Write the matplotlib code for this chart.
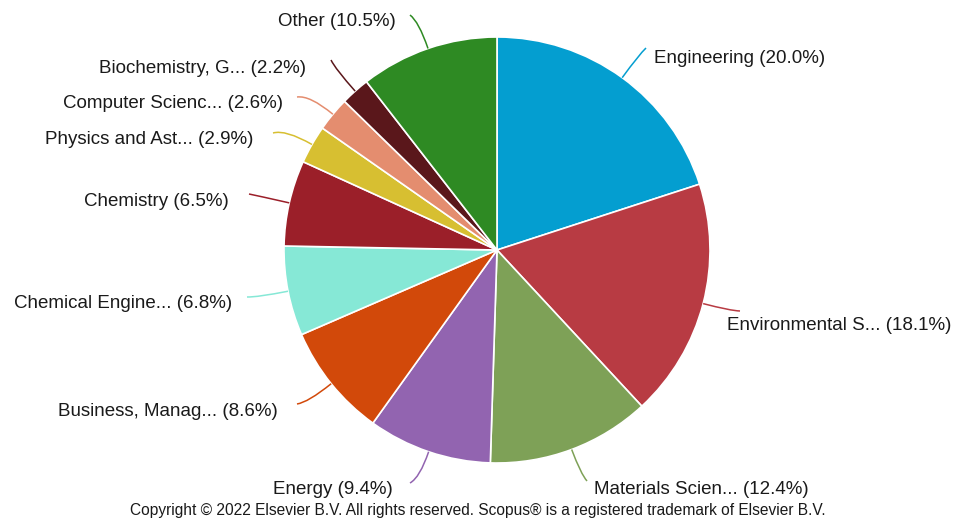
import matplotlib
matplotlib.use("Agg")
import matplotlib.pyplot as plt
import numpy as np
from matplotlib.path import Path
from matplotlib.patches import PathPatch

labels = ["Engineering", "Environmental S...", "Materials Scien...", "Energy",
          "Business, Manag...", "Chemical Engine...", "Chemistry",
          "Physics and Ast...", "Computer Scienc...", "Biochemistry, G...", "Other"]
shares = [20.0, 18.1, 12.4, 9.4, 8.6, 6.8, 6.5, 2.9, 2.6, 2.2, 10.5]
colors = ["#049ed0", "#b83b43", "#7ea157", "#9264b0", "#d2490a", "#86e8d6",
          "#9b1f29", "#d7bf31", "#e48d6f", "#5a171b", "#2e8a23"]

# layout (pixels from top-left): connector end, text anchor
conn_end = [(646, 48), (740, 311), (587, 481), (410, 483), (297, 404), (247, 297),
            (249, 194), (273, 133), (297, 97), (331, 60), (410, 15)]
text_pos = [(654, 58), (727, 326), (594, 490), (393, 490), (278, 411), (232, 303),
            (229, 201), (253, 139), (283, 103), (306, 68), (396, 21)]

W, H = 962, 523
cx, cy, r = 497, H - 250, 213

plt.rcParams['font.family'] = ['Liberation Sans', 'DejaVu Sans']

fig = plt.figure(figsize=(W / 100, H / 100), dpi=100)
ax = fig.add_axes([0, 0, 1, 1])
wedges, _ = ax.pie(shares, colors=colors, startangle=90, counterclock=False,
                   center=(cx, cy), radius=r,
                   wedgeprops=dict(edgecolor="white", linewidth=1.2))
ax.set_xlim(0, W)
ax.set_ylim(0, H)
ax.set_aspect("equal")
ax.axis("off")

# labels with curved connectors
for w, lab, val, col, ce, tp in zip(wedges, labels, shares, colors, conn_end, text_pos):
    mid = np.deg2rad((w.theta1 + w.theta2) / 2)
    dx, dy = np.cos(mid), np.sin(mid)
    side = 1 if dx >= 0 else -1
    p0 = (cx + r * dx, cy + r * dy)
    p2 = (ce[0], H - ce[1])
    d = np.hypot(p2[0] - p0[0], p2[1] - p0[1])
    p1 = (p0[0] + 0.75 * d * dx, p0[1] + 0.75 * d * dy)
    path = Path([p0, p1, p2], [Path.MOVETO, Path.CURVE3, Path.CURVE3])
    ax.add_patch(PathPatch(path, facecolor="none", edgecolor=col, lw=1.1))
    ax.text(tp[0], H - tp[1], f"{lab} ({val}%)",
            ha="left" if side > 0 else "right", va="center",
            fontsize=13.5, color="#1a1a1a")

ax.text(478, H - 511, "Copyright © 2022 Elsevier B.V. All rights reserved. "
        "Scopus® is a registered trademark of Elsevier B.V.",
        ha="center", va="center", fontsize=11.2, color="#1a1a1a")

fig.savefig("out.png", dpi=100)
